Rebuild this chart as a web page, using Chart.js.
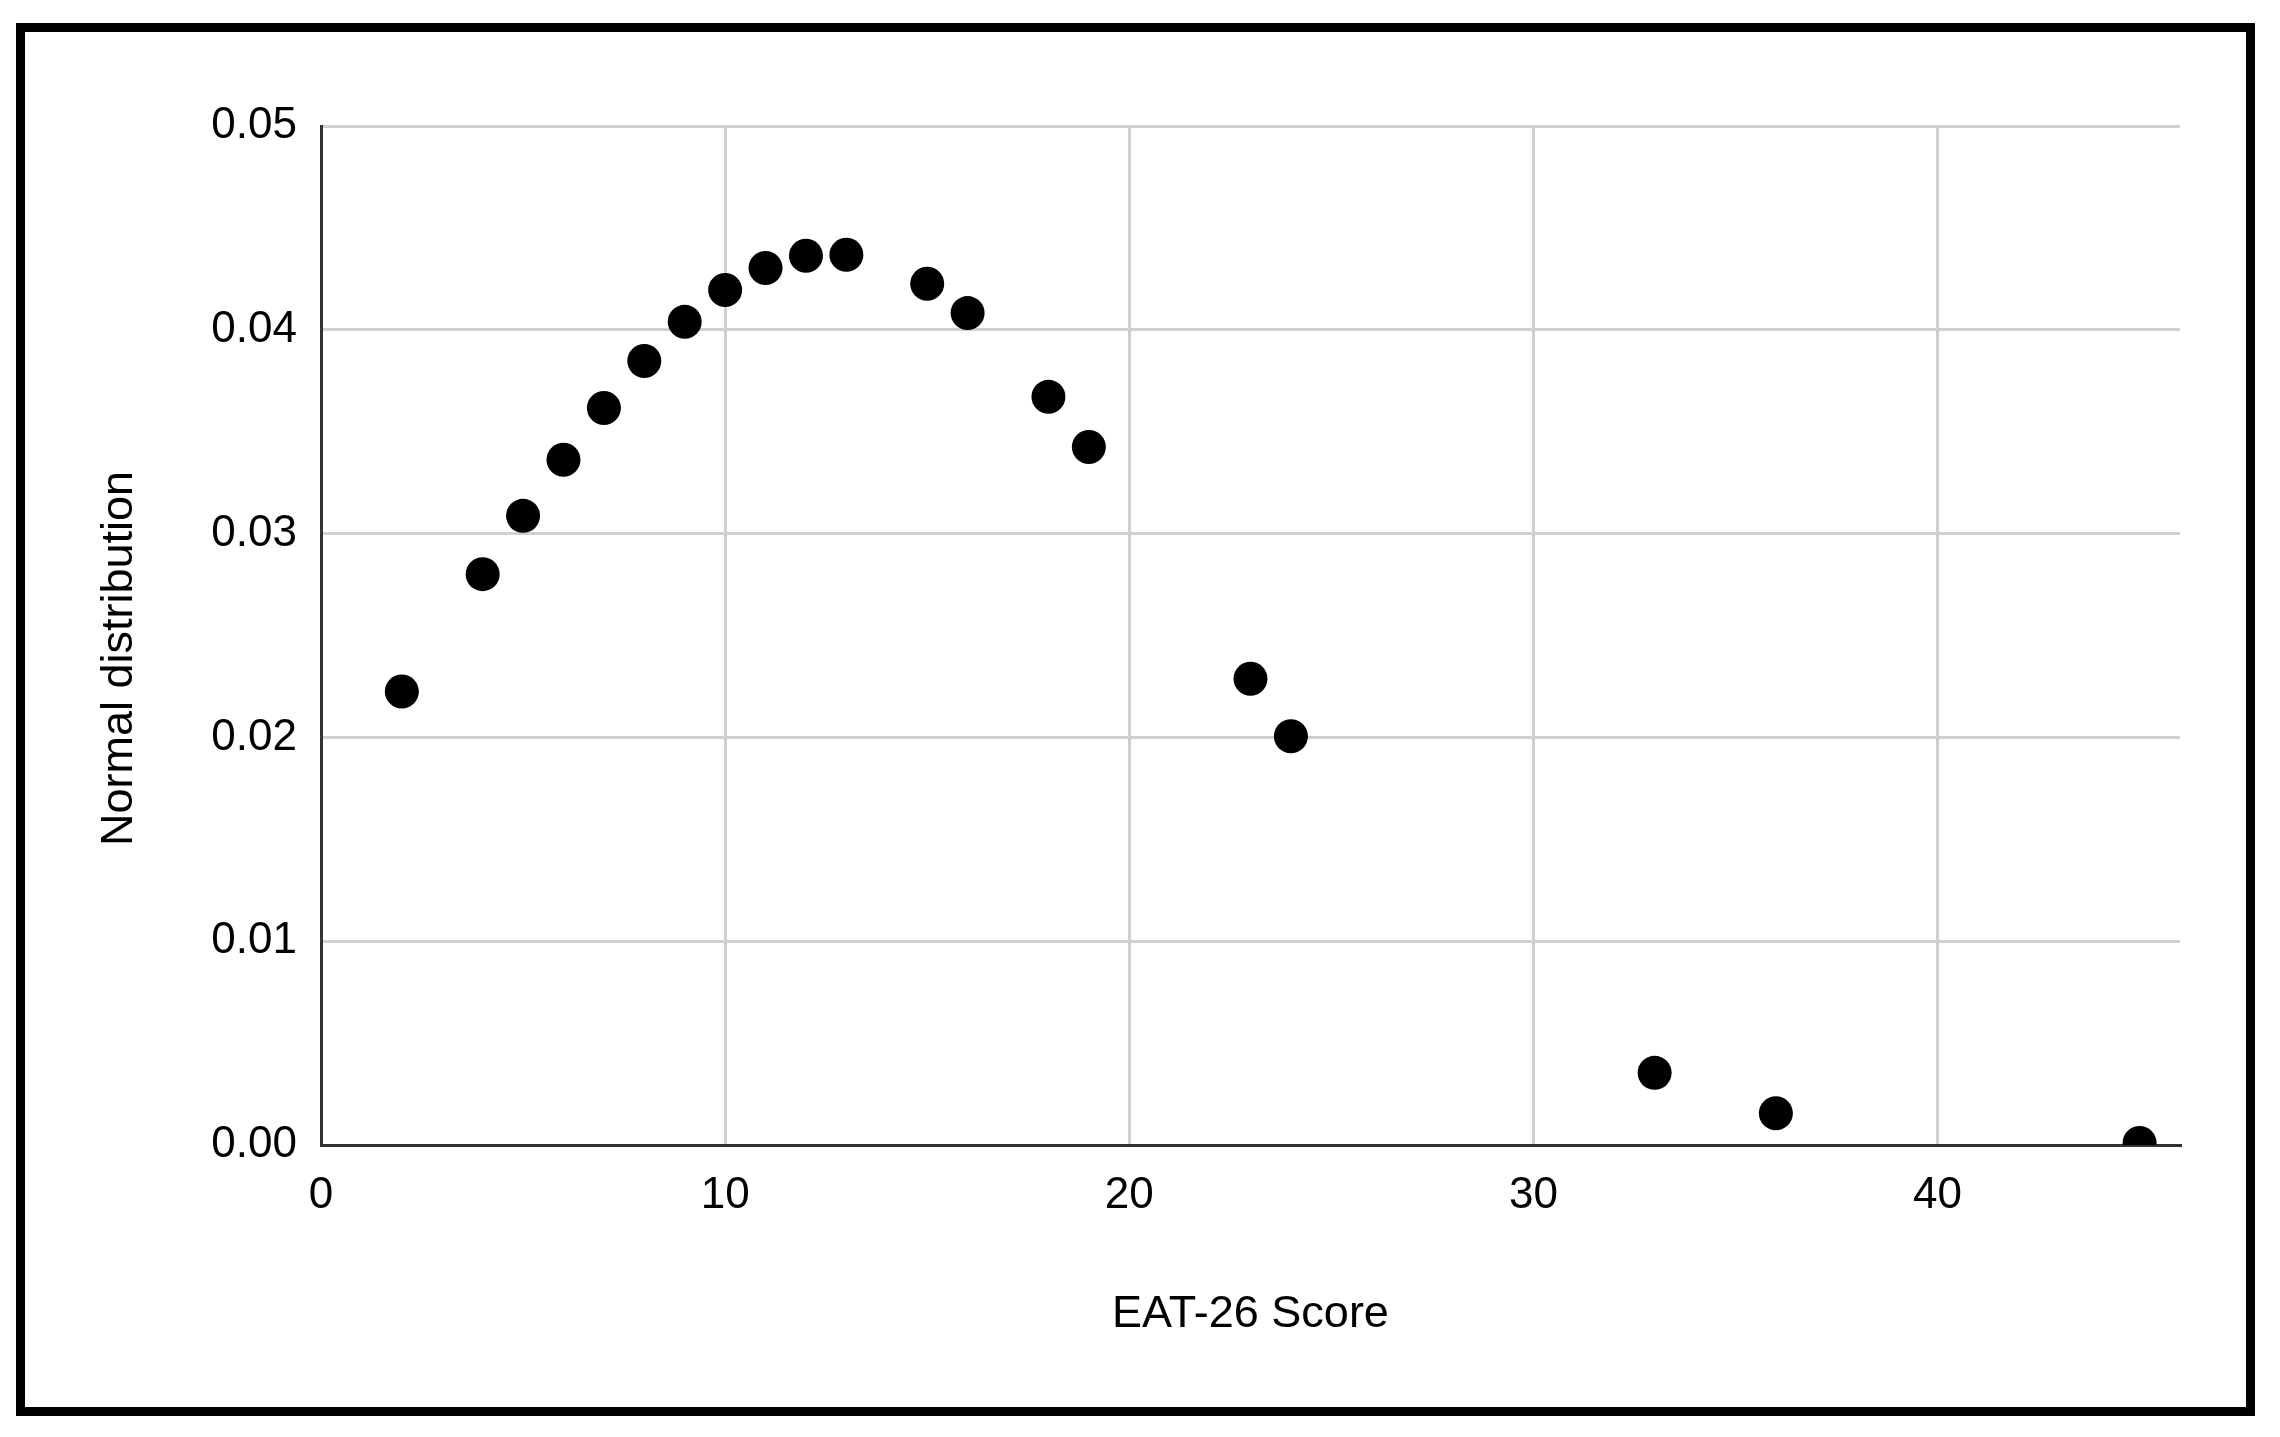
<!DOCTYPE html>
<html>
<head>
<meta charset="utf-8">
<script src="https://cdn.jsdelivr.net/npm/chart.js@4/dist/chart.umd.min.js"></script>
<style>
  html, body { margin: 0; padding: 0; background: #fff; }
  #wrap { position: relative; width: 2280px; height: 1437px; }
  #frame { position: absolute; left: 16px; top: 23px; width: 2221px; height: 1375px; border: 9px solid #000; pointer-events: none; }
  canvas { position: absolute; left: 0; top: 0; }
</style>
</head>
<body>
<div id="wrap">
  <canvas id="c" width="2280" height="1437"></canvas>
  <div id="frame"></div>
</div>
<script>
const scores = [2, 4, 5, 6, 7, 8, 9, 10, 11, 12, 13, 15, 16, 18, 19, 23, 24, 33, 36, 45];
const normalValues = [0.02225, 0.02801, 0.03087, 0.03362, 0.03616, 0.03847, 0.04039, 0.04195, 0.04303, 0.04363, 0.04368, 0.04226, 0.04082, 0.03671, 0.03425, 0.02288, 0.02006, 0.00354, 0.00156, 0.0001];
const xTicks = [0, 10, 20, 30, 40];
const yTicks = [0, 0.01, 0.02, 0.03, 0.04, 0.05];
const xTitle = 'EAT-26 Score';
const yTitle = 'Normal distribution';

const points = scores.map((s, i) => ({ x: s, y: normalValues[i] }));
const FONT = "'Liberation Sans', Arial, sans-serif";

// y-axis title drawn slightly below the axis centre, as in the original
const yTitlePlugin = {
  id: 'yTitle',
  afterDraw(chart) {
    const ctx = chart.ctx;
    const area = chart.chartArea;
    ctx.save();
    ctx.translate(120, (area.top + area.bottom) / 2 + 23);
    ctx.rotate(-Math.PI / 2);
    ctx.font = "45px " + FONT;
    ctx.fillStyle = '#000';
    ctx.textAlign = 'center';
    ctx.textBaseline = 'middle';
    ctx.fillText(yTitle, 0, 0);
    ctx.restore();
  }
};

new Chart(document.getElementById('c'), {
  type: 'scatter',
  data: {
    datasets: [{
      data: points,
      backgroundColor: '#000',
      borderColor: '#000',
      pointRadius: 17,
      pointHoverRadius: 17,
      pointBorderWidth: 0
    }]
  },
  options: {
    responsive: false,
    animation: false,
    events: [],
    layout: { padding: { left: 0, right: 100, top: 126, bottom: 0 } },
    plugins: { legend: { display: false }, tooltip: { enabled: false } },
    scales: {
      x: {
        type: 'linear',
        min: 0,
        max: 46,
        afterFit: s => { s.height = 292; },
        afterBuildTicks: s => { s.ticks = xTicks.map(v => ({ value: v })); },
        grid: { color: '#d0d0d0', lineWidth: 3, drawTicks: false },
        border: { color: '#333', width: 3 },
        ticks: { color: '#000', font: { family: FONT, size: 44 }, padding: 24, maxRotation: 0 },
        title: { display: true, text: xTitle, color: '#000', font: { family: FONT, size: 45 }, padding: { bottom: 95 } }
      },
      y: {
        type: 'linear',
        min: 0,
        max: 0.05,
        afterFit: s => { s.width = 321; },
        afterBuildTicks: s => { s.ticks = yTicks.map(v => ({ value: v })); },
        grid: { color: '#d0d0d0', lineWidth: 3, drawTicks: false },
        border: { color: '#333', width: 3 },
        ticks: { color: '#000', font: { family: FONT, size: 44 }, padding: 24, callback: v => v.toFixed(2) },
        title: { display: false, text: yTitle }
      }
    }
  },
  plugins: [yTitlePlugin]
});
</script>
</body>
</html>
